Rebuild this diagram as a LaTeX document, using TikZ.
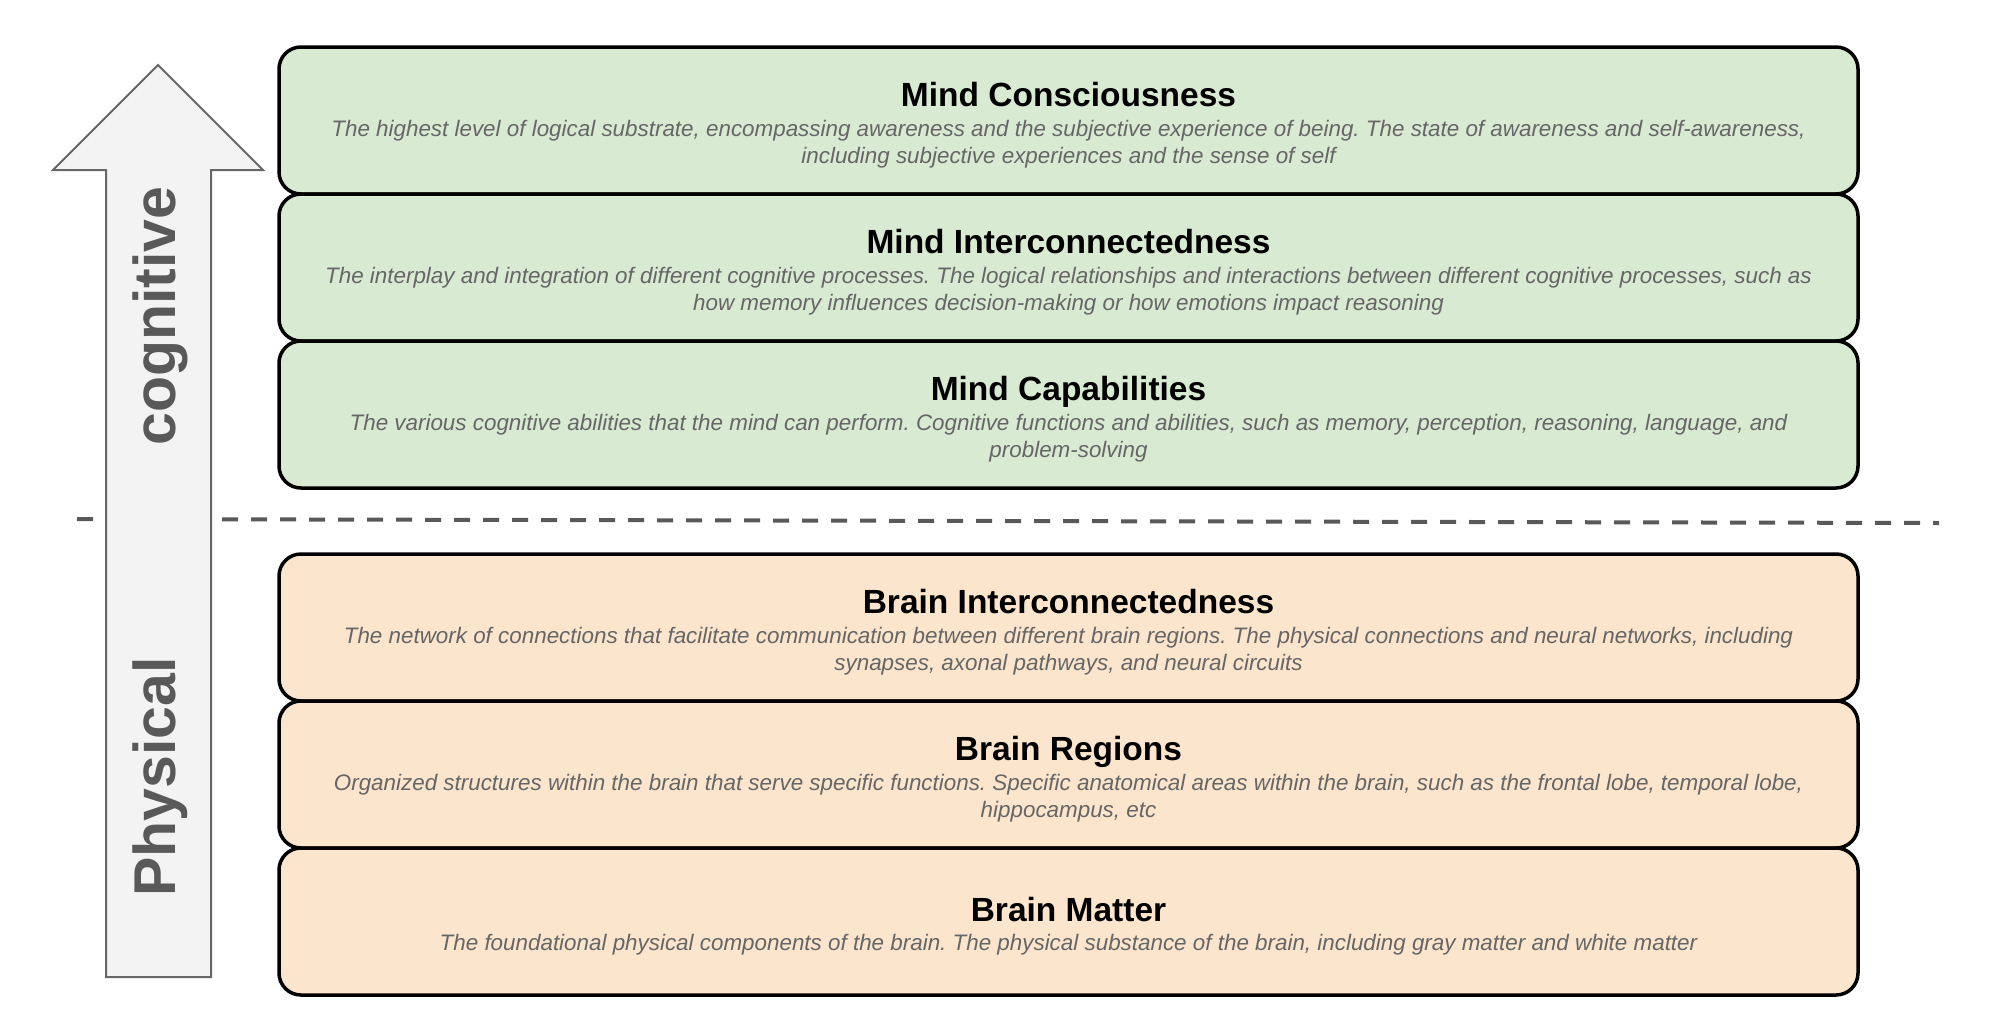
\documentclass[tikz,border=0pt]{standalone}
\usepackage{fontspec}
\setmainfont{Liberation Sans}
\frenchspacing
\definecolor{boxgreen}{HTML}{D9EAD3}
\definecolor{boxorange}{HTML}{FCE5CD}
\definecolor{arrowfill}{HTML}{F3F3F3}
\definecolor{arrowline}{HTML}{666666}
\definecolor{labelgray}{HTML}{595959}
\definecolor{descgray}{HTML}{666666}
\tikzset{
  layer/.style={draw=black, line width=3.5pt, rounded corners=22pt, minimum width=1579pt, minimum height=147pt, inner sep=0pt, outer sep=0pt, anchor=north},
  greenlayer/.style={layer, fill=boxgreen},
  orangelayer/.style={layer, fill=boxorange},
  titletext/.style={font=\fontsize{33.5}{36}\selectfont\bfseries, text=black, anchor=base, inner sep=0pt},
  desctext/.style={font=\fontsize{22.4}{24}\selectfont\itshape, text=descgray, anchor=base, inner sep=0pt},
  sidelabel/.style={font=\fontsize{59}{60}\selectfont\bfseries, text=labelgray, rotate=90, anchor=base, inner sep=0pt},
  bigarrow/.style={fill=arrowfill, draw=arrowline, line width=2pt, line join=miter},
  dividerline/.style={draw=labelgray, line width=4pt, dash pattern=on 16pt off 13pt},
}
\begin{document}
\begin{tikzpicture}[x=1pt, y=-1pt]
\useasboundingbox (0,0) rectangle (2000,1020);
% divider
\coordinate (dl) at (77,519);
\coordinate (dr) at (1939,523);
\draw[dividerline] (dl) -- (dr);
% arrow
\draw[bigarrow] (106,977) -- (106,170) -- (53,170) -- (158,65) -- (263,170) -- (211,170) -- (211,977) -- cycle;
\node[sidelabel] (cog) at (175,316) {cognitive};
\node[sidelabel] (phys) at (175,777) {Physical};
% boxes
\node[greenlayer] (mc) at (1068.5,47) {};
\node[greenlayer] (mi) at (1068.5,194) {};
\node[greenlayer] (mcap) at (1068.5,341) {};
\node[orangelayer] (bi) at (1068.5,554) {};
\node[orangelayer] (br) at (1068.5,701) {};
\node[orangelayer] (bm) at (1068.5,848) {};
% texts
\node[titletext] (mc-t) at (1068.5,106) {Mind Consciousness};
\node[desctext] (mc-d1) at (1068.5,136) {The highest level of logical substrate, encompassing awareness and the subjective experience of being. The state of awareness and self-awareness,};
\node[desctext] (mc-d2) at (1068.5,163) {including subjective experiences and the sense of self};
\node[titletext] (mi-t) at (1068.5,253) {Mind Interconnectedness};
\node[desctext] (mi-d1) at (1068.5,283) {The interplay and integration of different cognitive processes. The logical relationships and interactions between different cognitive processes, such as};
\node[desctext] (mi-d2) at (1068.5,310) {how memory influences decision-making or how emotions impact reasoning};
\node[titletext] (mcap-t) at (1068.5,400) {Mind Capabilities};
\node[desctext] (mcap-d1) at (1068.5,430) {The various cognitive abilities that the mind can perform. Cognitive functions and abilities, such as memory, perception, reasoning, language, and};
\node[desctext] (mcap-d2) at (1068.5,457) {problem-solving};
\node[titletext] (bi-t) at (1068.5,613) {Brain Interconnectedness};
\node[desctext] (bi-d1) at (1068.5,643) {The network of connections that facilitate communication between different brain regions. The physical connections and neural networks, including};
\node[desctext] (bi-d2) at (1068.5,670) {synapses, axonal pathways, and neural circuits};
\node[titletext] (br-t) at (1068.5,760) {Brain Regions};
\node[desctext] (br-d1) at (1068.5,790) {Organized structures within the brain that serve specific functions. Specific anatomical areas within the brain, such as the frontal lobe, temporal lobe,};
\node[desctext] (br-d2) at (1068.5,817) {hippocampus, etc};
\node[titletext] (bm-t) at (1068.5,921) {Brain Matter};
\node[desctext] (bm-d1) at (1068.5,950) {The foundational physical components of the brain. The physical substance of the brain, including gray matter and white matter};
\end{tikzpicture}
\end{document}
